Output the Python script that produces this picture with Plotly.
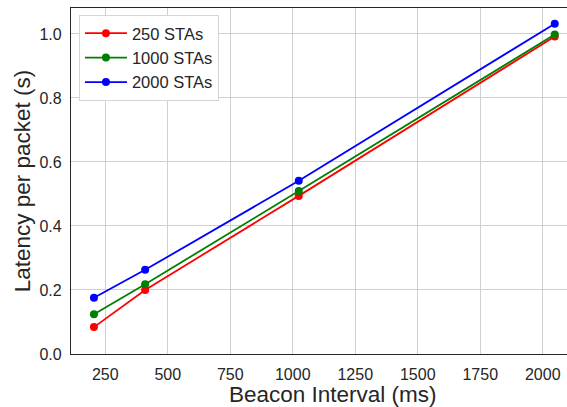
import plotly.graph_objects as go

beacon_ms = [204.8, 409.6, 1024, 2048]
lat_250 = [0.084, 0.200, 0.494, 0.992]
lat_1000 = [0.124, 0.218, 0.509, 0.998]
lat_2000 = [0.176, 0.263, 0.541, 1.032]
series = [("250 STAs", lat_250, "#ff0000"),
          ("1000 STAs", lat_1000, "#008000"),
          ("2000 STAs", lat_2000, "#0000ff")]
x_ticks = [250, 500, 750, 1000, 1250, 1500, 1750, 2000]
y_ticks = [0.0, 0.2, 0.4, 0.6, 0.8, 1.0]

fig = go.Figure()
for name, ys, col in series:
    fig.add_trace(go.Scatter(x=beacon_ms, y=ys, name=name, mode="lines+markers",
                             line=dict(color=col, width=1.8),
                             marker=dict(color=col, size=8)))

font = "Arial, Liberation Sans, sans-serif"
fig.update_layout(
    width=567, height=407,
    margin=dict(l=71, r=0, t=8, b=53),
    plot_bgcolor="white", paper_bgcolor="white",
    font=dict(family=font, size=16, color="#262626"),
    showlegend=True,
    legend=dict(x=0.016, y=0.98, xanchor="left", yanchor="top",
                bgcolor="white", bordercolor="#d5d5d5", borderwidth=1,
                font=dict(size=16.5, color="#262626"), itemwidth=42,
                tracegroupgap=0),
    xaxis=dict(range=[113, 2097], tickvals=x_ticks,
               showgrid=True, gridcolor="#d0d0d0", gridwidth=1,
               showline=True, linecolor="#262626", linewidth=1.3, mirror=True,
               zeroline=False, ticks="", ticklabelstandoff=6,
               tickfont=dict(size=16)),
    yaxis=dict(range=[0, 1.081], tickvals=y_ticks,
               ticktext=[f"{v:.1f}" for v in y_ticks],
               showgrid=True, gridcolor="#d0d0d0", gridwidth=1,
               showline=True, linecolor="#262626", linewidth=1.3,
               zeroline=False, ticks="", ticklabelstandoff=5,
               tickfont=dict(size=16),
               title=dict(text="Latency per packet (s)", font=dict(size=22.5), standoff=2)),
    annotations=[dict(text="Beacon Interval (ms)", xref="paper", yref="paper",
                      x=0.528, y=-0.0, xanchor="center", yanchor="top", yshift=-26,
                      showarrow=False, font=dict(size=22.5, color="#262626"))],
)
fig.write_html("out.html")
